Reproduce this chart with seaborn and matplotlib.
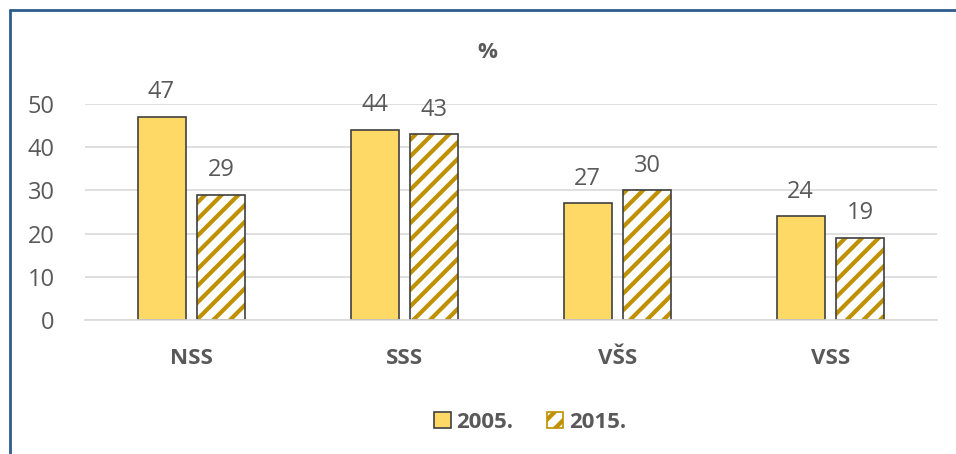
import numpy as np
import pandas as pd
import matplotlib
matplotlib.use("Agg")
import matplotlib.pyplot as plt
import seaborn as sns
from matplotlib.patches import Rectangle, Patch
from matplotlib.lines import Line2D

# Data
categories = ['NSS', 'SSS', 'VŠS', 'VSS']
years = ['2005.', '2015.']
values_2005 = [47, 44, 27, 24]
values_2015 = [29, 43, 30, 19]

df = pd.DataFrame({
    'cat': categories * 2,
    'year': [years[0]] * 4 + [years[1]] * 4,
    'value': values_2005 + values_2015,
})

sns.set_style('white')
plt.rcParams['font.family'] = ['Open Sans', 'DejaVu Sans']
plt.rcParams['hatch.linewidth'] = 3.0

fill = '#FFD966'
hatch_col = '#BF9000'
edge = '#404040'
txt = '#595959'

fig = plt.figure(figsize=(9.56, 4.54), dpi=100)
ax = fig.add_axes([85 / 956, 1 - 320 / 454, 852 / 956, 216 / 454])

sns.barplot(data=df, x='cat', y='value', hue='year', ax=ax,
            palette=[fill, 'white'], saturation=1, width=0.563, gap=0.2,
            edgecolor=edge, linewidth=1.2, legend=False)

# hatched bars: hatch in gold, then a grey outline on top
n = len(categories)
for i, p in enumerate(ax.patches[:2 * n]):
    if i >= n:
        p.set_hatch('//')
        p.set_edgecolor(hatch_col)
        p.set_linewidth(0)
        ax.add_patch(Rectangle(p.get_xy(), p.get_width(), p.get_height(),
                               fill=False, edgecolor=edge, linewidth=1.2, zorder=p.get_zorder() + 0.1))

for c in ax.containers:
    ax.bar_label(c, padding=9, fontsize=17, color=txt, clip_on=False)

ax.set_ylim(0, 50)
ax.set_yticks(range(0, 51, 10))
ax.yaxis.grid(True, color='#D9D9D9', linewidth=1.2)
ax.set_axisbelow(True)
for s in ['left', 'right', 'top']:
    ax.spines[s].set_visible(False)
ax.spines['bottom'].set_color('#D9D9D9')
ax.spines['bottom'].set_linewidth(1.2)
ax.tick_params(axis='y', labelsize=17, labelcolor=txt, length=0, pad=22)
ax.tick_params(axis='x', labelsize=16, labelcolor=txt, length=0, pad=20)
for lab in ax.get_xticklabels():
    lab.set_fontweight('bold')
ax.set_xlabel('')
ax.set_ylabel('')

fig.text(487 / 956, 1 - 52 / 454, '%', ha='center', va='center', fontsize=16,
         fontweight='bold', color=txt)

handles = [Patch(facecolor=fill, edgecolor=edge, linewidth=1.2),
           Patch(facecolor='white', edgecolor=hatch_col, hatch='//', linewidth=1.2)]
leg = fig.legend(handles, years, loc='center', bbox_to_anchor=(530 / 956, 1 - 422 / 454),
                 ncol=2, frameon=False, handlelength=0.75, handleheight=0.75,
                 handletextpad=0.25, columnspacing=1.5,
                 prop={'size': 16, 'weight': 'bold'})
for t in leg.get_texts():
    t.set_color(txt)

# outer frame (left and top only)
fig.add_artist(Line2D([10 / 956, 10 / 956], [0, 1 - 10 / 454], transform=fig.transFigure,
                      color='#2E5D8E', linewidth=2))
fig.add_artist(Line2D([10 / 956, 1], [1 - 10 / 454, 1 - 10 / 454], transform=fig.transFigure,
                      color='#2E5D8E', linewidth=2))

fig.savefig('out.png', dpi=100)
